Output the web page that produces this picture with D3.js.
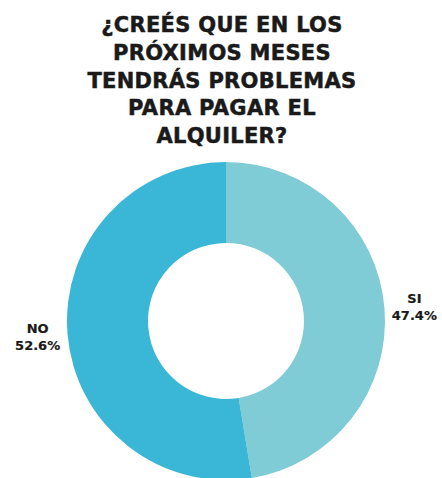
<!DOCTYPE html>
<html>
<head>
<meta charset="utf-8">
<script src="https://cdn.jsdelivr.net/npm/d3@7/dist/d3.min.js"></script>
<style>
  html, body { margin: 0; padding: 0; background: #fff; }
  svg { display: block; }
</style>
</head>
<body>
<svg id="chart" width="442" height="478"></svg>
<script>
// Survey answers and their shares (%)
const categories = ["SI", "NO"];
const values = [47.4, 52.6];
const colors = ["#7fcbd6", "#3ab6d6"];
const titleLines = [
  "¿CREÉS QUE EN LOS",
  "PRÓXIMOS MESES",
  "TENDRÁS PROBLEMAS",
  "PARA PAGAR EL",
  "ALQUILER?"
];

const svg = d3.select("#chart");
const cx = 226, cy = 321;
const outerR = 159, innerR = 78, labelR = 189;
const fontFam = "'DejaVu Sans', 'Open Sans', sans-serif";

// Title
const title = svg.append("g")
  .attr("font-family", fontFam)
  .attr("font-weight", "bold")
  .attr("font-size", 21)
  .attr("letter-spacing", 0.3)
  .attr("fill", "#1a1a1a")
  .attr("stroke", "#1a1a1a")
  .attr("stroke-width", 0.5)
  .attr("text-anchor", "middle");
title.selectAll("text")
  .data(titleLines)
  .join("text")
  .attr("x", 222)
  .attr("y", (d, i) => 32 + i * 27.8)
  .text(d => d);

// Donut
const pie = d3.pie().sort(null).value(d => d.value);
const arcs = pie(categories.map((c, i) => ({ name: c, value: values[i], color: colors[i] })));
const arc = d3.arc().innerRadius(innerR).outerRadius(outerR);

const g = svg.append("g").attr("transform", `translate(${cx},${cy})`);
g.selectAll("path")
  .data(arcs)
  .join("path")
  .attr("d", arc)
  .attr("fill", d => d.data.color);

// Outside labels at each slice's mid angle
const labelArc = d3.arc().innerRadius(labelR).outerRadius(labelR);
const labels = g.selectAll("g.lbl")
  .data(arcs)
  .join("g")
  .attr("class", "lbl")
  .attr("transform", d => `translate(${labelArc.centroid(d)})`)
  .attr("font-family", fontFam)
  .attr("font-weight", "bold")
  .attr("font-size", 13)
  .attr("fill", "#1a1a1a")
  .attr("stroke", "#1a1a1a")
  .attr("stroke-width", 0.2)
  .attr("text-anchor", "middle");
labels.append("text").attr("y", -3).text(d => d.data.name);
labels.append("text").attr("y", 14).text(d => d3.format(".1f")(d.data.value) + "%");
</script>
</body>
</html>
